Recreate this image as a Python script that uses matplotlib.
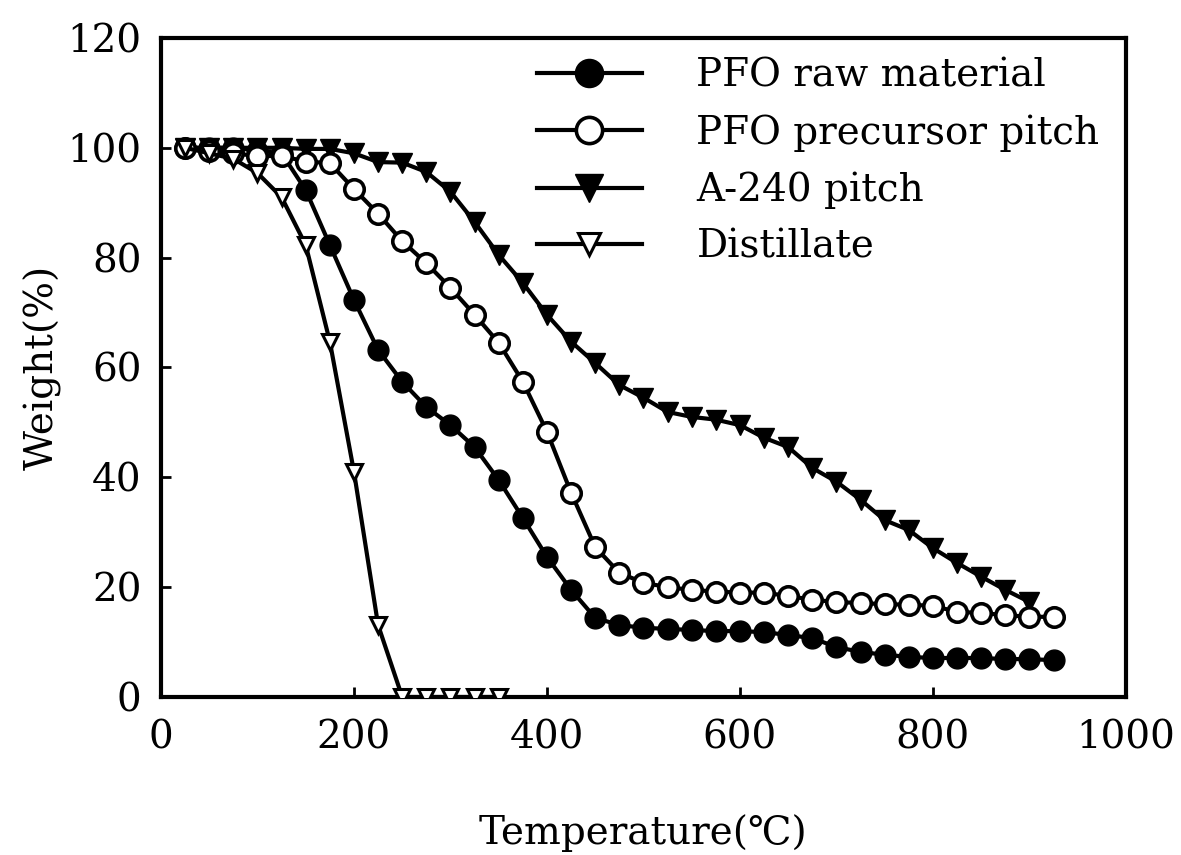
import numpy as np
import matplotlib
matplotlib.use("Agg")
import matplotlib.pyplot as plt

plt.rcParams['font.family'] = ['DejaVu Serif', 'DejaVu Sans']

# temperature steps (deg C)
temp_raw = [25, 50, 75, 100, 125, 150, 175, 200, 225, 250, 275, 300, 325, 350, 375,
            400, 425, 450, 475, 500, 525, 550, 575, 600, 625, 650, 675, 700, 725, 750,
            775, 800, 825, 850, 875, 900, 925]
temp_prec = temp_raw
temp_a240 = temp_raw[:36]
temp_dist = temp_raw[:14]

weight_raw = [100, 100, 100, 99.5, 99, 92.3, 82.3, 72.3, 63.2, 57.4, 52.8, 49.5, 45.5,
              39.5, 32.6, 25.5, 19.5, 14.4, 13.1, 12.6, 12.4, 12.2, 12.0, 12.0, 11.8,
              11.3, 10.7, 9.1, 8.2, 7.7, 7.3, 7.1, 7.1, 7.1, 6.9, 6.9, 6.7]
weight_prec = [100, 99.5, 99, 98.5, 98.5, 97.5, 97.2, 92.5, 88, 83, 79, 74.5, 69.6,
               64.5, 57.4, 48.3, 37.2, 27.3, 22.6, 20.8, 20.0, 19.5, 19.2, 19.0, 19.0,
               18.4, 17.7, 17.3, 17.1, 16.9, 16.8, 16.6, 15.5, 15.3, 14.9, 14.6, 14.6]
weight_a240 = [100, 100, 100, 100, 100, 99.8, 99.8, 99, 97.4, 97.3, 95.6, 92, 86.5,
               80.5, 75.4, 69.6, 64.7, 60.8, 56.8, 54.5, 51.9, 51.0, 50.5, 49.5, 47.2,
               45.5, 41.7, 39.2, 35.9, 32.2, 30.4, 27.1, 24.4, 21.9, 19.5, 17.3]
weight_dist = [100, 99, 98, 95.4, 91, 82.3, 64.7, 41, 13.1, 0, 0, 0, 0, 0]

fig = plt.figure(figsize=(11.81, 8.55), dpi=100)
ax = fig.add_axes([0.1363, 0.1848, 0.8171, 0.7708])

lw = 3
ax.plot(temp_raw, weight_raw, color='k', lw=lw, marker='o', ms=15,
        mfc='k', mec='k', label='PFO raw material', zorder=3)
ax.plot(temp_prec, weight_prec, color='k', lw=lw, marker='o', ms=14,
        mfc='white', mec='k', mew=2.6, label='PFO precursor pitch', zorder=4)
ax.plot(temp_a240, weight_a240, color='k', lw=lw, marker='v', ms=15,
        mfc='k', mec='k', label='A-240 pitch', zorder=3)
ax.plot(temp_dist, weight_dist, color='k', lw=lw, marker='v', ms=12,
        mfc='white', mec='k', mew=2.2, label='Distillate', zorder=5)

ax.set_xlim(0, 1000)
ax.set_ylim(0, 120)
ax.set_xticks([0, 200, 400, 600, 800, 1000])
ax.set_yticks([0, 20, 40, 60, 80, 100, 120])
ax.tick_params(direction='in', length=7, width=2, labelsize=28)
ax.tick_params(axis='x', pad=16)
ax.tick_params(axis='y', pad=14)
for s in ax.spines.values():
    s.set_linewidth(3)

ax.set_xlabel('Temperature(℃)', fontsize=28, labelpad=42)
ax.set_ylabel('Weight(%)', fontsize=28, labelpad=4)

leg = ax.legend(loc='upper left', bbox_to_anchor=(0.3735, 0.994), frameon=False,
                fontsize=28, handlelength=2.7, handletextpad=1.4, labelspacing=0.51,
                markerscale=1.35, borderaxespad=0)

fig.savefig('out.png', dpi=100)
